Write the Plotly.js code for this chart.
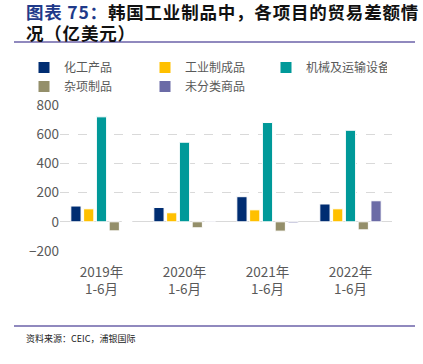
<!DOCTYPE html>
<html>
<head>
<meta charset="utf-8">
<script src="https://cdn.plot.ly/plotly-3.0.1.min.js"></script>
<style>html,body{margin:0;padding:0;background:#fff;}#chart{width:423px;height:364px;}</style>
</head>
<body>
<div id="chart"></div>
<script>
const categories = ["2019年<br>1-6月", "2020年<br>1-6月", "2021年<br>1-6月", "2022年<br>1-6月"];
const seriesNames = ["化工产品", "工业制成品", "机械及运输设备", "杂项制品", "未分类商品"];
const chemicals = [108, 98, 172, 122];
const manufactured = [89, 62, 82, 89];
const machinery = [719, 545, 680, 627];
const misc = [-62, -41, -64, -55];
const unclassified = [2, 5, -8, 144];
const colors = ["#002D72", "#FFC000", "#009999", "#948F6A", "#6B6BA6"];

const values = [chemicals, manufactured, machinery, misc, unclassified];
const traces = values.map((v, i) => ({
  type: 'bar', name: seriesNames[i], x: categories, y: v,
  marker: {color: colors[i], line: {color: '#ffffff', width: 1}},
  hoverinfo: 'none'
}));

const font = "'Noto Sans CJK SC', 'Noto Sans', sans-serif";
const PL = 60, PT = 105, PB = 251, PW = 332, PH = PB - PT;
const px = v => (v - PL) / PW;
const py = v => (PB - v) / PH;

const layout = {
  width: 423, height: 364,
  margin: {l: PL, r: 423 - PL - PW, t: PT, b: 364 - PB, autoexpand: false},
  paper_bgcolor: '#fff', plot_bgcolor: '#fff',
  barmode: 'group', bargap: 0.23, bargroupgap: 0.2,
  font: {family: font, color: '#595959', size: 13},
  xaxis: {
    showline: false, showgrid: false, ticks: '', zeroline: false,
    ticklabelstandoff: 11,
    tickfont: {family: font, size: 13.5, color: '#595959'}
  },
  yaxis: {
    range: [-200, 800], tickvals: [-200, 0, 200, 400, 600, 800],
    showgrid: true, gridcolor: '#D9D9D9', griddash: 'dash', gridwidth: 1,
    zeroline: true, zerolinecolor: '#D9D9D9', zerolinewidth: 1,
    showline: false, ticks: '',
    tickfont: {family: font, size: 13.5, color: '#595959'}
  },
  legend: {
    orientation: 'h', xref: 'paper', yref: 'paper',
    x: px(24), xanchor: 'left', y: py(53), yanchor: 'top',
    entrywidth: 76, entrywidthmode: 'pixels', bgcolor: 'rgba(0,0,0,0)',
    font: {family: font, size: 12, color: '#595959'},
    itemwidth: 30, tracegroupgap: 0
  },
  shapes: [
    {type: 'line', xref: 'paper', yref: 'paper', x0: px(14), x1: px(415),
     y0: py(42), y1: py(42), line: {color: '#6B62A8', width: 1.5}},
    {type: 'line', xref: 'paper', yref: 'paper', x0: px(14), x1: px(415),
     y0: py(326), y1: py(326), line: {color: '#6B62A8', width: 1.5}}
  ],
  annotations: [
    {text: '<span style="color:#1F3A8A;letter-spacing:0.8px">图表 75：</span><span style="letter-spacing:0.8px">韩国工业制品中，各项目的贸易差额情</span>',
     xref: 'paper', yref: 'paper', x: px(24), xanchor: 'left', y: py(12), yanchor: 'middle',
     showarrow: false, font: {family: font, size: 17.5, color: '#111111', weight: 'bold'}},
    {text: '<span style="letter-spacing:0.8px">况（亿美元）</span>',
     xref: 'paper', yref: 'paper', x: px(24), xanchor: 'left', y: py(32), yanchor: 'middle',
     showarrow: false, font: {family: font, size: 17.5, color: '#111111', weight: 'bold'}},
    {text: '资料来源：CEIC，浦银国际', xref: 'paper', yref: 'paper',
     x: px(24), xanchor: 'left', y: py(338), yanchor: 'middle',
     showarrow: false, font: {family: font, size: 9, color: '#222222'}}
  ]
};

Plotly.newPlot('chart', traces, layout, {displayModeBar: false, staticPlot: true});
</script>
</body>
</html>
